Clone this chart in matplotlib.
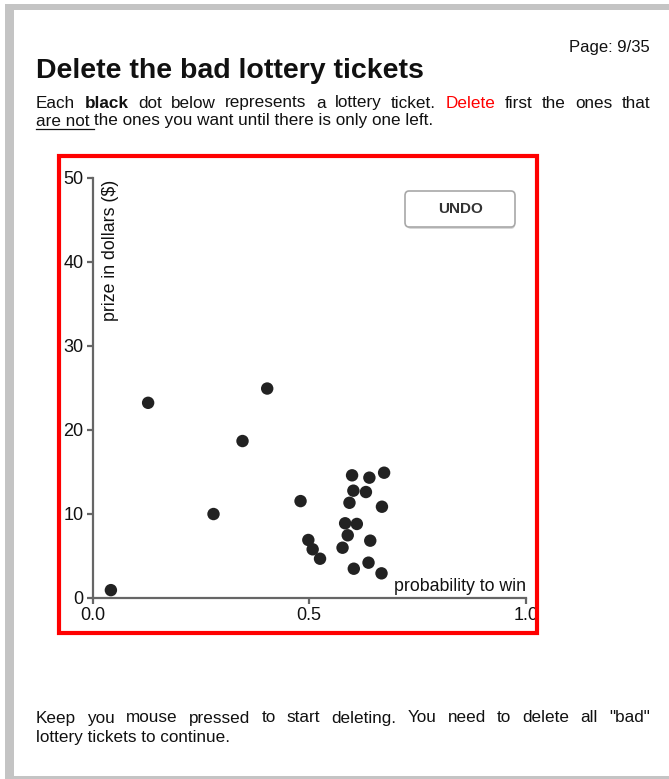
import numpy as np
import matplotlib.pyplot as plt
from matplotlib.patches import Rectangle, FancyBboxPatch
from matplotlib.lines import Line2D

W, H = 669, 779
plt.rcParams['font.family'] = ['Liberation Sans', 'DejaVu Sans']

# --- data: lottery tickets ---
prob = [0.042, 0.128, 0.403, 0.346, 0.279, 0.480, 0.498, 0.508, 0.525, 0.577,
        0.589, 0.583, 0.610, 0.593, 0.602, 0.599, 0.639, 0.631, 0.673, 0.668,
        0.641, 0.603, 0.637, 0.667]
prize = [0.9, 23.2, 24.9, 18.65, 9.96, 11.5, 6.87, 5.76, 4.64, 5.95,
         7.43, 8.86, 8.78, 11.3, 12.74, 14.57, 14.29, 12.58, 14.88, 10.83,
         6.79, 3.45, 4.17, 2.9]
xticks = [0.0, 0.5, 1.0]
xtick_labels = ["0.0", "0.5", "1.0"]
yticks = [0, 10, 20, 30, 40, 50]

title = "Delete the bad lottery tickets"
page_label = "Page: 9/35"
intro_line1 = [("Each", {}), ("black", {"fontweight": "bold"}), ("dot", {}), ("below", {}),
               ("represents", {}), ("a", {}), ("lottery", {}), ("ticket.", {}),
               ("Delete", {"color": "#ff0000"}), ("first", {}), ("the", {}),
               ("ones", {}), ("that", {})]
intro_underlined = "are not"
intro_rest = "the ones you want until there is only one left."
footer_line1 = ['Keep', 'you', 'mouse', 'pressed', 'to', 'start', 'deleting.', 'You',
                'need', 'to', 'delete', 'all', '"bad"']
footer_line2 = "lottery tickets to continue."


def px(x, y):
    """Pixel (von oben links) -> Figure-Koordinaten."""
    return x / W, 1 - y / H


fig = plt.figure(figsize=(W / 100, H / 100), dpi=100)
fig.patch.set_facecolor('white')
renderer = fig.canvas.get_renderer()

# grauer Seitenrahmen
frame = '#c4c4c4'
for (x0, y0, x1, y1) in [(5, 4, W, 10), (5, 4, 14, 779), (5, 776, W, 779)]:
    fig.patches.append(Rectangle(px(x0, y1), (x1 - x0) / W, (y1 - y0) / H,
                                 transform=fig.transFigure, facecolor=frame,
                                 edgecolor='none', zorder=0))

# Kopf
fig.text(*px(650, 52), page_label, ha='right', va='baseline', fontsize=12, color='#111')
fig.text(*px(36, 78.5), title, ha='left', va='baseline', fontsize=20.5,
         fontweight='bold', color='#111')

FS = 12.3


def justified(words, x0, x1, y, fs):
    texts = [fig.text(0, 0, w, fontsize=fs, va='baseline', ha='left',
                      **({'color': '#111'} | props)) for w, props in words]
    widths = [t.get_window_extent(renderer).width for t in texts]
    gap = (x1 - x0 - sum(widths)) / (len(words) - 1)
    x = x0
    for t, w in zip(texts, widths):
        t.set_position(px(x, y))
        x += w + gap


justified(intro_line1, 36, 650, 107.5, FS)

t_ul = fig.text(*px(36, 125.5), intro_underlined, fontsize=FS, va='baseline', color='#111')
ul_w = t_ul.get_window_extent(renderer).width
sp = (fig.text(0, 0, "a a", fontsize=FS).get_window_extent(renderer).width
      - fig.text(0, 0, "aa", fontsize=FS).get_window_extent(renderer).width)
for t in fig.texts[-2:]:
    t.set_visible(False)
fig.lines.append(Line2D([36 / W, (36 + ul_w + sp) / W], [1 - 128.5 / H] * 2,
                        transform=fig.transFigure, color='#111', lw=0.9))
fig.text(*px(36 + ul_w + sp, 125.5), intro_rest, fontsize=FS, va='baseline', color='#111')

justified([(w, {}) for w in footer_line1], 36, 650, 722.5, FS)
fig.text(*px(36, 742), footer_line2, fontsize=FS, va='baseline', color='#111')

# roter Rahmen um den Plot
fig.patches.append(Rectangle(px(59, 633), (537 - 59) / W, (633 - 156) / H,
                             transform=fig.transFigure, facecolor='none',
                             edgecolor='#ff0000', lw=3, zorder=5))

# Scatterplot
ax_x0, ax_x1, ax_y0, ax_y1 = 92.7, 525.7, 177.7, 597.7
ax = fig.add_axes([ax_x0 / W, 1 - ax_y1 / H, (ax_x1 - ax_x0) / W, (ax_y1 - ax_y0) / H])
ax.set_facecolor('none')
ax.scatter(prob, prize, s=80, color='#222222', edgecolors='none', zorder=3)
ax.set_xlim(0, 1)
ax.set_ylim(0, 50)
ax.set_xticks(xticks)
ax.set_xticklabels(xtick_labels)
ax.set_yticks(yticks)
for side in ['top', 'right']:
    ax.spines[side].set_visible(False)
for side in ['left', 'bottom']:
    ax.spines[side].set_color('#666666')
    ax.spines[side].set_linewidth(1.6)
ax.tick_params(colors='#666666', width=1.6, length=4.5, labelsize=13,
               labelcolor='#111111', pad=2)
ax.text(1.0, 0.017, "probability to win", transform=ax.transAxes, ha='right',
        va='baseline', fontsize=12.8, color='#111')
ax.text(0.042, 0.995, "prize in dollars ($)", transform=ax.transAxes, ha='center',
        va='top', rotation=90, fontsize=12.8, color='#111')

# UNDO-Knopf
fig.patches.append(FancyBboxPatch(px(407, 229), (515 - 407) / W, (229 - 193) / H,
                                  boxstyle='round,pad=0,rounding_size=0.006',
                                  transform=fig.transFigure, facecolor='#d8d8d8',
                                  edgecolor='none', zorder=6))
fig.patches.append(FancyBboxPatch(px(405, 227), (515 - 405) / W, (227 - 191) / H,
                                  boxstyle='round,pad=0,rounding_size=0.006',
                                  transform=fig.transFigure, facecolor='white',
                                  edgecolor='#a8a8a8', lw=1.2, zorder=7))
fig.text(*px(460.5, 209), "UNDO", ha='center', va='center', fontsize=11,
         fontweight='bold', color='#333', zorder=8)

fig.savefig("out.png", dpi=100)
